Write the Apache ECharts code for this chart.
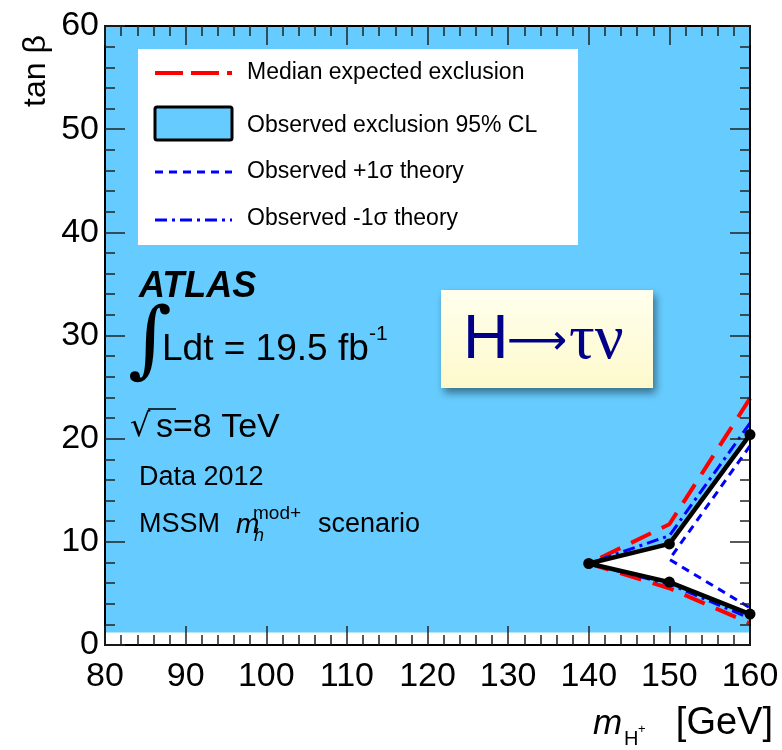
<!DOCTYPE html>
<html>
<head>
<meta charset="utf-8">
<script src="https://cdn.jsdelivr.net/npm/echarts@6/dist/echarts.min.js"></script>
<style>
  html, body { margin: 0; padding: 0; background: #fff; }
  #main { width: 782px; height: 750px; }
</style>
</head>
<body>
<div id="main"></div>
<script>
// axis ranges
var xMin = 80, xMax = 160;
var yMin = 0, yMax = 60;
var xTicks = [80, 90, 100, 110, 120, 130, 140, 150, 160];
var yTicks = [0, 10, 20, 30, 40, 50, 60];
var fillFloor = 1.2; // the excluded band starts just above tan beta = 1

// observed exclusion contour (m_H+, tan beta)
var observedUpper = [[140, 7.9], [150, 9.8], [160, 20.4]];
var observedLower = [[140, 7.9], [150, 6.1], [160, 3.0]];

// median expected
var expectedUpper = [[140, 7.9], [150, 11.7], [160, 23.9]];
var expectedLower = [[140, 7.9], [150, 5.5], [160, 2.1]];

// observed +1 sigma theory
var plusSigma = [[160, 19.3], [150, 8.3], [160, 3.6]];

// observed -1 sigma theory
var minusUpper = [[140, 7.9], [150, 10.6], [160, 21.5]];
var minusLower = [[140, 7.9], [150, 5.9], [160, 2.6]];

var FONT = '"Liberation Sans", Arial, Helvetica, sans-serif';
var BLUE = '#66ccff';

// join upper (reversed) and lower branch into one line
function contour (upper, lower) {
  return upper.slice().reverse().concat(lower.slice(1));
}

// blue region = whole plane above the floor minus the allowed wedge
var exclusionPoly = [[xMin, fillFloor], [xMax, fillFloor]]
  .concat(observedLower.slice().reverse())
  .concat(observedUpper.slice(1))
  .concat([[xMax, yMax], [xMin, yMax]]);

var myChart = echarts.init(document.getElementById('main'));

function axisX (pos, showLabel) {
  return {
    type: 'value', position: pos, min: xMin, max: xMax, interval: 10, z: 5,
    axisLine: { show: true, onZero: false, lineStyle: { color: '#000', width: 2 } },
    axisTick: { show: true, inside: true, length: 19, lineStyle: { color: '#222', width: 1.5 } },
    minorTick: { show: true, splitNumber: 5, length: 10, lineStyle: { color: '#222', width: 1.5 } },
    splitLine: { show: false },
    axisLabel: { show: showLabel, fontSize: 34, fontFamily: FONT, color: '#000', margin: 15 }
  };
}

function axisY (pos, showLabel) {
  return {
    type: 'value', position: pos, min: yMin, max: yMax, interval: 10, z: 5,
    axisLine: { show: true, onZero: false, lineStyle: { color: '#000', width: 2 } },
    axisTick: { show: true, inside: true, length: 20, lineStyle: { color: '#222', width: 1.5 } },
    minorTick: { show: true, splitNumber: 5, length: 10, lineStyle: { color: '#222', width: 1.5 } },
    splitLine: { show: false },
    axisLabel: { show: showLabel, fontSize: 34, fontFamily: FONT, color: '#000', margin: 6 }
  };
}

function txt (text, x, y, font, extra) {
  var st = { text: text, font: font, fill: '#000', textAlign: 'left', textVerticalAlign: 'middle' };
  for (var k in (extra || {})) st[k] = extra[k];
  return { type: 'text', x: x, y: y, z: 20, style: st };
}

function legendLine (y, color, width, dash) {
  return {
    type: 'line', z: 20,
    shape: { x1: 155, y1: y, x2: 232, y2: y },
    style: { stroke: color, lineWidth: width, lineDash: dash }
  };
}

var yTitle = txt('tan β', 36, 71, '32px ' + FONT, { textAlign: 'center' });
yTitle.rotation = Math.PI / 2;

option = {
  animation: false,
  backgroundColor: '#fff',
  grid: { left: 105, right: 32, top: 26, bottom: 105 },
  xAxis: [axisX('bottom', true), axisX('top', false)],
  yAxis: [axisY('left', true), axisY('right', false)],
  series: [
    {
      name: 'Observed exclusion 95% CL',
      type: 'custom',
      z: 1,
      data: [[xMin, yMin]],
      renderItem: function (params, api) {
        return {
          type: 'polygon',
          shape: { points: exclusionPoly.map(function (p) { return api.coord(p); }) },
          style: { fill: BLUE }
        };
      }
    },
    {
      name: 'Median expected exclusion',
      type: 'line', z: 3, clip: false,
      data: contour(expectedUpper, expectedLower),
      showSymbol: false,
      lineStyle: { color: '#ff0000', width: 4, type: [22, 12] }
    },
    {
      name: 'Observed +1σ theory',
      type: 'line', z: 3, clip: false,
      data: plusSigma,
      showSymbol: false,
      lineStyle: { color: '#0000ff', width: 3, type: [8, 6] }
    },
    {
      name: 'Observed -1σ theory',
      type: 'line', z: 3, clip: false,
      data: contour(minusUpper, minusLower),
      showSymbol: false,
      lineStyle: { color: '#0000ff', width: 3, type: [12, 5, 3, 5] }
    },
    {
      name: 'Observed',
      type: 'line', z: 6, clip: false,
      data: contour(observedUpper, observedLower),
      symbol: 'circle', symbolSize: 11,
      itemStyle: { color: '#000' },
      lineStyle: { color: '#000', width: 4.5 }
    }
  ],
  graphic: [
    // legend box
    { type: 'rect', z: 19, shape: { x: 138, y: 49, width: 440, height: 196 }, style: { fill: '#fff' } },
    legendLine(73, '#ff0000', 4, [28, 8]),
    { type: 'rect', z: 20, shape: { x: 155, y: 107, width: 77, height: 33, r: 2 }, style: { fill: BLUE, stroke: '#000', lineWidth: 3 } },
    legendLine(172, '#0000ff', 3, [8, 6]),
    legendLine(220, '#0000ff', 3, [12, 5, 3, 5]),
    txt('Median expected exclusion', 247, 73, '23px ' + FONT),
    txt('Observed exclusion 95% CL', 247, 126, '23px ' + FONT),
    txt('Observed +1σ theory', 247, 172, '23px ' + FONT),
    txt('Observed -1σ theory', 247, 219, '23px ' + FONT),

    // ATLAS labels
    txt('ATLAS', 139, 287, 'italic bold 36px ' + FONT),
    txt('∫', 128, 345, '84px "DejaVu Serif", serif'),
    txt('Ldt = 19.5 fb', 162, 350, '37px ' + FONT),
    txt('-1', 369, 334, '21px ' + FONT),
    txt('√', 130, 428, '32px "DejaVu Sans", sans-serif'),
    { type: 'line', z: 20, shape: { x1: 148, y1: 409, x2: 176, y2: 409 }, style: { stroke: '#000', lineWidth: 1.5 } },
    txt('s=8 TeV', 156, 428, '34px ' + FONT),
    txt('Data 2012', 139, 478, '27px ' + FONT),
    txt('MSSM', 139, 525, '27px ' + FONT),
    txt('m', 236, 525, 'italic 28px ' + FONT),
    txt('mod+', 253, 514, '19px ' + FONT),
    txt('h', 254, 536, 'italic 18px ' + FONT),
    txt('scenario', 318, 525, '27px ' + FONT),

    // decay box
    {
      type: 'rect', z: 19,
      shape: { x: 441, y: 290, width: 212, height: 98 },
      style: {
        fill: new echarts.graphic.LinearGradient(0, 0, 0, 1, [
          { offset: 0, color: '#ffffee' }, { offset: 1, color: '#fdf9cc' }
        ]),
        shadowBlur: 8, shadowOffsetX: 3, shadowOffsetY: 5, shadowColor: 'rgba(0,0,0,0.45)'
      }
    },
    txt('H', 463, 341, '63px ' + FONT, { fill: '#000088' }),
    txt('⟶', 507, 343, '42px "DejaVu Sans", sans-serif', { fill: '#000088' }),
    txt('τν', 569, 341, '64px "Liberation Serif", "Times New Roman", serif', { fill: '#000088' }),

    // axis titles
    yTitle,
    txt('m', 593, 724, 'italic 35px ' + FONT),
    txt('H', 624, 739, '20px ' + FONT),
    txt('+', 638, 729, '13px ' + FONT),
    txt('[GeV]', 773, 724, '38px ' + FONT, { textAlign: 'right' })
  ]
};

myChart.setOption(option);
window.addEventListener('resize', function () {
  myChart.resize();
});
</script>
</body>
</html>
